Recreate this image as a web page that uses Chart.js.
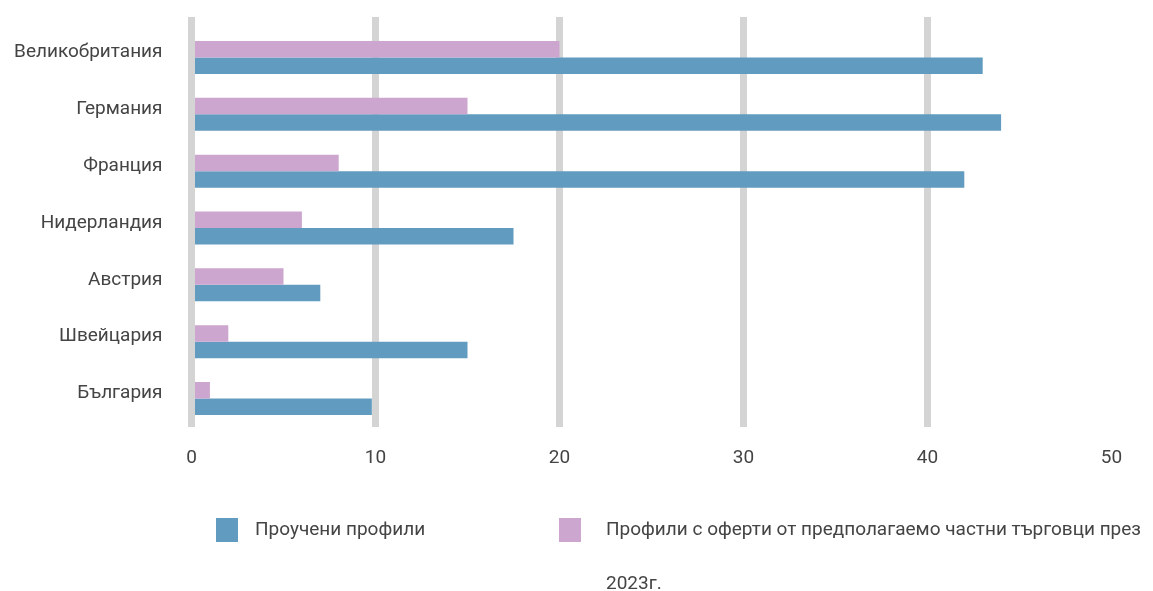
<!DOCTYPE html>
<html>
<head>
<meta charset="utf-8">
<script src="https://cdn.jsdelivr.net/npm/chart.js@4"></script>
<style>
  html, body { margin: 0; padding: 0; background: #fff; }
  #wrap { position: relative; width: 1153px; height: 591px; }
  #chart-box { position: absolute; left: 0; top: 0; width: 1153px; height: 480px; }
  #legend { position: absolute; left: 0; top: 0; width: 1153px; height: 591px; pointer-events: none;
            font-family: Roboto, sans-serif; font-size: 19px; color: #444; }
  .lg-box { position: absolute; width: 22px; height: 24px; }
  .lg-text { position: absolute; line-height: 54px; }
</style>
</head>
<body>
<div id="wrap">
  <div id="chart-box"><canvas id="chart"></canvas></div>
  <div id="legend"></div>
</div>
<script>
const countries = ['Великобритания', 'Германия', 'Франция', 'Нидерландия', 'Австрия', 'Швейцария', 'България'];
const studied = [43, 44, 42, 17.5, 7, 15, 9.8];
const privateOffers = [20, 15, 8, 6, 5, 2, 1];
const xTicks = [0, 10, 20, 30, 40, 50];

const seriesNames = ['Проучени профили', 'Профили с оферти от предполагаемо частни търговци през 2023г.'];
const blue = '#619bbf';
const pink = '#cca6ce';
const gridGrey = '#d4d4d4';

// без линия при 50
const gridColor = c => (c.tick && c.tick.value === 50 ? 'rgba(0,0,0,0)' : gridGrey);

const ctx = document.getElementById('chart').getContext('2d');

const chart = new Chart(ctx, {
    type: 'bar',
    data: {
        labels: countries,
        datasets: [
            // розовата серия е отгоре във всяка категория
            { label: seriesNames[1], data: privateOffers, backgroundColor: pink, borderWidth: 0 },
            { label: seriesNames[0], data: studied, backgroundColor: blue, borderWidth: 0 }
        ]
    },
    options: {
        indexAxis: 'y',
        responsive: true,
        maintainAspectRatio: false,
        animation: false,
        layout: { padding: { top: 17, right: 41.5, bottom: 12, left: 0 } },
        datasets: { bar: { categoryPercentage: 0.58, barPercentage: 1.0 } },
        scales: {
            x: {
                min: 0,
                max: 50,
                afterBuildTicks: scale => { scale.ticks = xTicks.map(v => ({ value: v })); },
                afterFit: scale => { scale.height = 41; },
                border: { display: false },
                grid: {
                    drawTicks: false,
                    lineWidth: 7,
                    color: gridColor
                },
                ticks: {
                    padding: 20,
                    color: '#444',
                    font: { family: 'Roboto, sans-serif', size: 19 }
                }
            },
            // горна ос само за продължението на линиите нагоре
            xTop: {
                axis: 'x',
                position: 'top',
                min: 0,
                max: 50,
                afterBuildTicks: scale => { scale.ticks = xTicks.map(v => ({ value: v })); },
                afterFit: scale => { scale.height = 12; },
                border: { display: false },
                grid: {
                    drawOnChartArea: false,
                    drawTicks: true,
                    tickLength: 12,
                    tickWidth: 7,
                    tickColor: gridColor
                },
                ticks: { display: false }
            },
            y: {
                afterFit: scale => {
                    scale.width = 191.5;
                    // без допълнителен отстъп отгоре/отдолу заради padding на етикетите
                    scale.paddingTop = 0;
                    scale.paddingBottom = 0;
                },
                border: { display: false },
                grid: { display: false, drawTicks: false },
                ticks: {
                    padding: 29,
                    labelOffset: -5,
                    color: '#444',
                    font: { family: 'Roboto, sans-serif', size: 19 }
                }
            }
        },
        plugins: {
            legend: { display: false },
            tooltip: { enabled: false }
        }
    }
});

// Легенда в HTML - синята серия първа
const legendEl = document.getElementById('legend');
const legendItems = [
    { color: blue, text: seriesNames[0], boxX: 216, textX: 255, width: 300 },
    { color: pink, text: seriesNames[1], boxX: 559, textX: 606, width: 547 }
];
legendItems.forEach(item => {
    const box = document.createElement('div');
    box.className = 'lg-box';
    box.style.left = item.boxX + 'px';
    box.style.top = '518px';
    box.style.background = item.color;
    legendEl.appendChild(box);

    const txt = document.createElement('div');
    txt.className = 'lg-text';
    txt.style.left = item.textX + 'px';
    txt.style.top = '502px';
    txt.style.width = item.width + 'px';
    txt.textContent = item.text;
    legendEl.appendChild(txt);
});
</script>
</body>
</html>
